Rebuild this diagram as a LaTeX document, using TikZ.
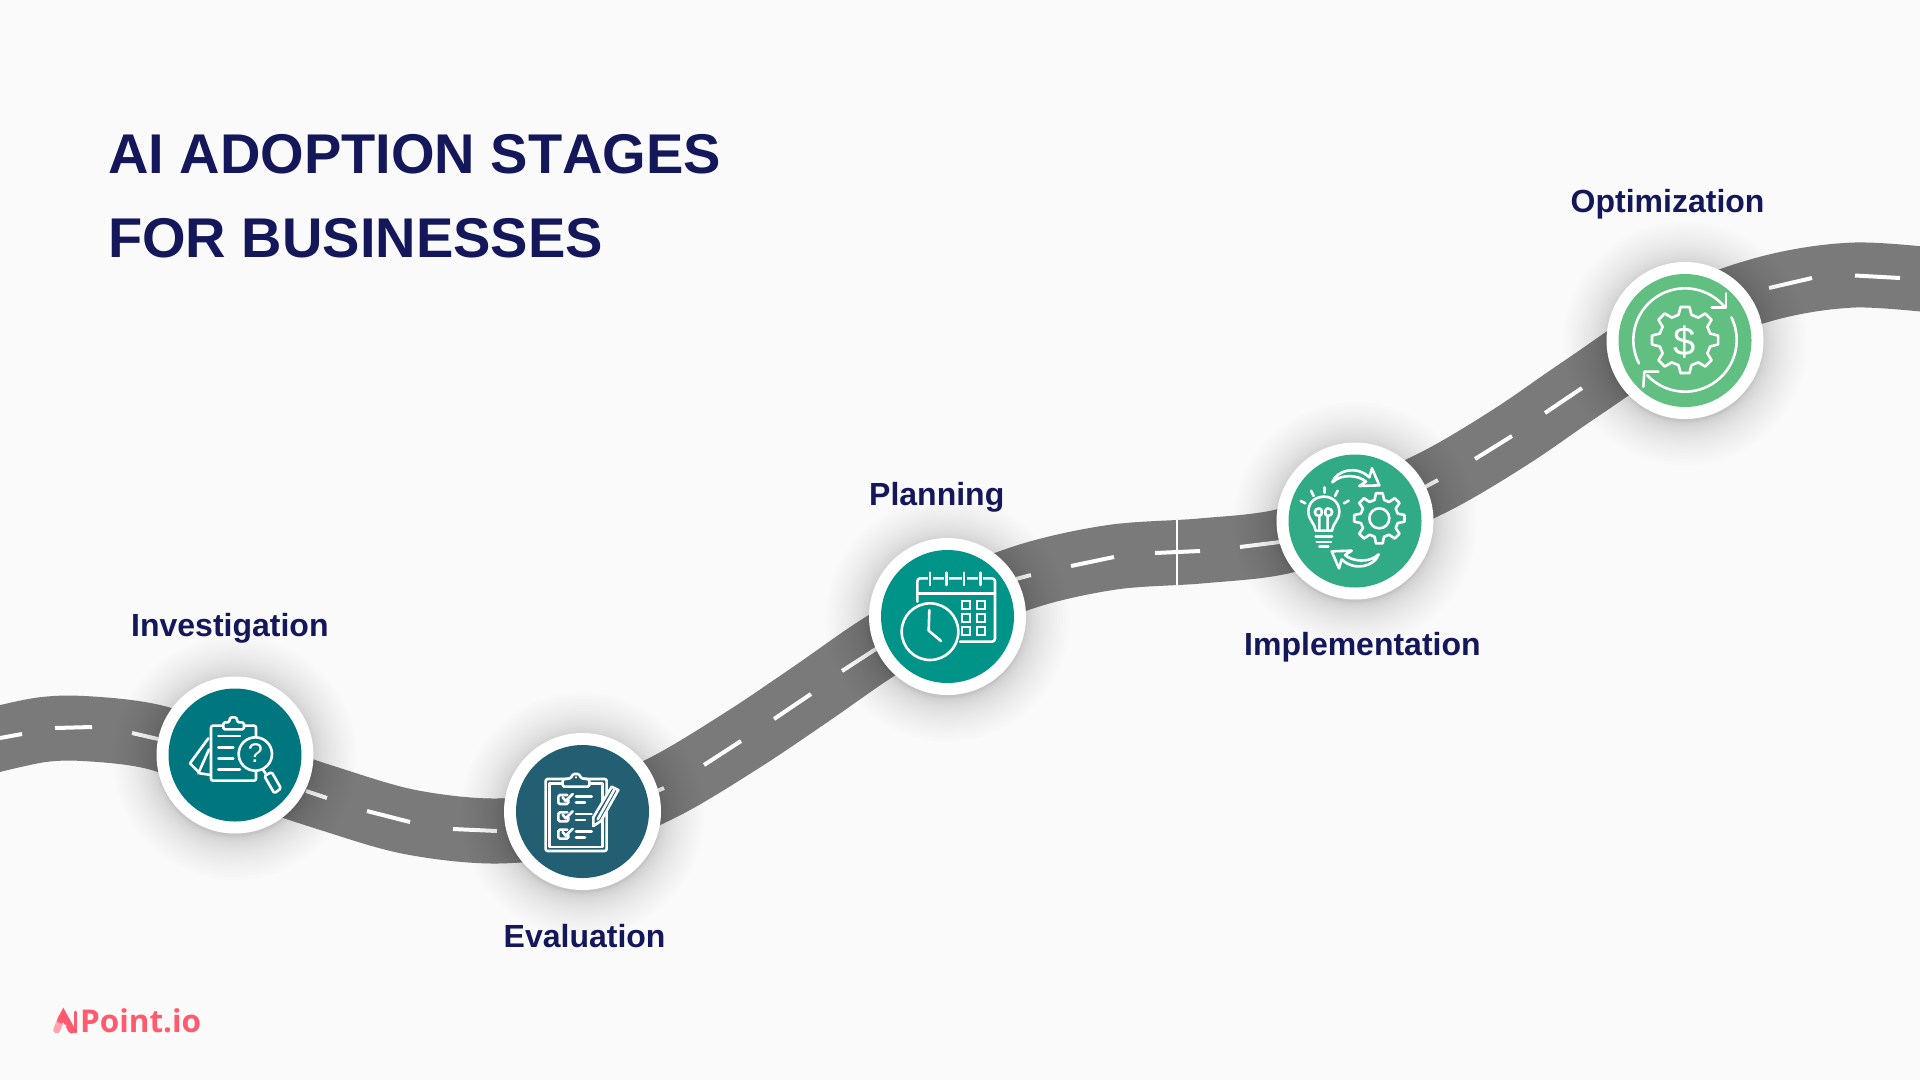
\documentclass[tikz,border=0pt]{standalone}
\usepackage{fontspec}
\setmainfont{Liberation Sans}
\newfontfamily\logofont{Open Sans}
\definecolor{bgc}{HTML}{FAFAFA}
\definecolor{roadc}{HTML}{7A7A7A}
\definecolor{inkc}{HTML}{14185A}
\definecolor{pinkc}{HTML}{FF5A6E}
\definecolor{pinkl}{HTML}{FFA3AE}
\definecolor{cOne}{HTML}{00777F}
\definecolor{cTwo}{HTML}{235F73}
\definecolor{cThree}{HTML}{009488}
\definecolor{cFour}{HTML}{30AB85}
\definecolor{cFive}{HTML}{62BF82}
\newcommand{\gearpath}[5]{% cx cy rin rout teeth
  \begin{scope}[shift={(#1,#2)}]
  \draw[ic] ({-0.32*360/#5}:#3) foreach \k in {1,...,#5} {
     -- ({(\k-1)*360/#5-0.17*360/#5}:#4) -- ({(\k-1)*360/#5+0.17*360/#5}:#4)
     -- ({(\k-1)*360/#5+0.32*360/#5}:#3) -- ({\k*360/#5-0.32*360/#5}:#3) } -- cycle;
  \end{scope}}
\tikzset{
  ic/.style={draw=white,line width=2.6pt,line join=round,line cap=round},
  zoomat/.style 2 args={shift={(#1,#2)},x=0.33333pt,y=-0.33333pt},
  ringnode/.style={circle,fill=white,minimum size=157pt,inner sep=0pt},
  labeltext/.style={anchor=base west,inner sep=0pt,text=inkc,font=\fontsize{32}{36}\selectfont\bfseries},
  titletext/.style={anchor=base west,inner sep=0pt,text=inkc,font=\fontsize{56}{60}\selectfont\bfseries},
  halo/.style={fill=black,opacity=0.0075}
}
\begin{document}
\begin{tikzpicture}[x=1pt,y=-1pt]
\fill[bgc] (0,0) rectangle (1920,1080);
\useasboundingbox (0,0) rectangle (1920,1080);
% road
\begin{scope}
\clip (0,0) rectangle (1920,1080);
\draw[roadc,line width=65pt] plot[smooth,tension=0.55] coordinates {(-30,746) (40,730) (92,729) (158,738) (235,767) (327,798) (410,822) (497,831) (582,820) (662,788) (741,741) (811,694) (879,647) (947,608) (1031,575) (1114,557) (1200,551) (1280,542) (1355,517) (1438,480) (1512,436) (1582,388) (1685,320) (1769,288) (1855,275) (1950,282)};
\end{scope}
\draw[white,line width=1.2pt] (1177,520) -- (1177,585);
\foreach \a/\b/\c/\d in {0/738/22/734, 55/728/92/727, 132/733/158/739, 306/791/327/798, 367/811/410/822, 453/829/497/831, 650/794/664/788, 704/765/741/741, 774/719/811/694, 842/671/879/647, 1016/579/1031/575, 1071/566/1114/557, 1155/553/1200/551, 1240/547/1280/542, 1425/487/1438/480, 1475/459/1512/436, 1545/413/1582/388, 1769/288/1812/278, 1855/275.5/1900/278}
  \draw[white,line width=4pt] (\a,\b) -- (\c,\d);
% halos
\foreach \cx/\cy in {235/755,582.5/811.5,947.5/616.5,1355/521,1685/340.5}
  \foreach \i in {0,...,26}
    \fill[halo] (\cx,\cy+3) circle ({78+44*(\i/26)*(\i/26)});
% discs
\node[ringnode] (stepa) at (235,755) {};
\node[ringnode] (stepb) at (582.5,811.5) {};
\node[ringnode] (stepc) at (947.5,616.5) {};
\node[ringnode] (stepd) at (1355,521) {};
\node[ringnode] (stepe) at (1685,340.5) {};
\fill[cOne] (stepa.center) circle (66.5);
\fill[cTwo] (stepb.center) circle (66.5);
\fill[cThree] (stepc.center) circle (66.5);
\fill[cFour] (stepd.center) circle (66.5);
\fill[cFive] (stepe.center) circle (66.5);
% icon 1
\begin{scope}[zoomat={140}{660}]
\draw[ic,fill=cOne] (205,235) -- (150,310) -- (180,340) -- (213,345);
\draw[ic] (207,268) -- (175,340);
\draw[ic,fill=cOne,rounded corners=2pt] (213,197) -- (213,362) -- (348,362) -- (348,197) -- cycle;
\draw[ic,fill=cOne,rounded corners=1.5pt] (250,187) -- (268,187) -- (270,172) -- (290,172) -- (292,187) -- (312,187) -- (312,208) -- (250,208) -- cycle;
\foreach \yy/\xx in {228/300,262/280,295/280,328/300}
  \draw[ic] (235,\yy) -- (\xx,\yy);
\draw[ic,fill=cOne] (346,282) circle (50);
\draw[ic] (368,328) -- (380,345);
\draw[ic,fill=cOne,rounded corners=1.5pt] (373,348) -- (395,336) -- (423,385) -- (403,400) -- cycle;
\node[text=white,inner sep=0pt,font=\fontsize{27}{30}\selectfont] (qmark) at (346,280) {?};
\end{scope}
% icon 2
\begin{scope}[zoomat={490}{720}]
\draw[ic,rounded corners=2pt] (167,177) rectangle (350,393);
\draw[ic] (178,190) rectangle (338,381);
\draw[ic,fill=cTwo,rounded corners=1.5pt] (218,178) -- (243,175) -- (248,162) -- (268,162) -- (273,175) -- (298,178) -- (298,200) -- (218,200) -- cycle;
\fill[white] (258,172) circle (3.5);
\foreach \dy in {0,52,104} {
  \begin{scope}[shift={(0,\dy)}]
  \draw[ic,rounded corners=1.5pt] (232,225) -- (205,225) -- (205,252) -- (235,252) -- (235,240);
  \draw[ic] (218,232) -- (227,243) -- (248,222);
  \draw[ic] (258,230) -- (305,230);
  \draw[ic] (258,248) -- (285,248);
  \end{scope}}
\draw[ic,fill=cTwo] (310,318) -- (310,292) -- (365,200) -- (385,210) -- (333,303) -- cycle;
\draw[ic] (323,298) -- (375,205);
\end{scope}
% icon 3
\begin{scope}[zoomat={860}{530}]
\draw[ic,rounded corners=3pt] (172,215) -- (172,145) -- (405,145) -- (405,335) -- (300,335);
\draw[ic] (172,190) -- (405,190);
\foreach \xx in {210,260,312,362} {
  \draw[cThree,line width=5pt] (\xx,128) -- (\xx,165);
  \draw[ic] (\xx,128) -- (\xx,165);}
\foreach \xx in {305,350} \foreach \yy in {214,252,290}
  \draw[white,line width=2pt] (\xx,\yy) rectangle ++(26,24);
\draw[ic,fill=cThree] (210,305) circle (85);
\draw[ic] (208,240) -- (206,302) -- (243,333);
\end{scope}
% icon 4
\begin{scope}[zoomat={1270}{440}]
\draw[ic] (137,272) .. controls (135,250) and (115,240) .. (115,215) .. controls (115,188) and (135,170) .. (162,170) .. controls (190,170) and (208,190) .. (208,215) .. controls (208,240) and (188,250) .. (186,272) -- cycle;
\draw[ic] (148,272) -- (148,228) .. controls (130,228) and (130,205) .. (148,205) .. controls (158,205) and (158,228) .. (148,228);
\draw[ic] (173,272) -- (173,228) .. controls (191,228) and (191,205) .. (173,205) .. controls (163,205) and (163,228) .. (173,228);
\draw[ic] (137,290) -- (186,290);
\draw[ic] (140,306) -- (183,306);
\draw[ic] (148,320) -- (175,320);
\draw[ic] (163,142) -- (163,158);
\draw[ic] (123,152) -- (131,168);
\draw[ic] (203,152) -- (195,168);
\draw[ic] (92,183) -- (106,190);
\draw[ic] (236,182) -- (222,190);
\gearpath{328}{235}{57}{76}{8}
\draw[ic] (328,235) circle (30);
\foreach \rr in {0,180} {
  \begin{scope}[rotate around={\rr:(256.5,235)}]
  \draw[ic] (187,127) .. controls (200,90) and (260,75) .. (298,112) -- (306,85) -- (328,136) -- (268,138) -- (288,125) .. controls (265,105) and (215,100) .. (187,127) -- cycle;
  \end{scope}}
\end{scope}
% icon 5
\begin{scope}[zoomat={1600}{260}]
\draw[ic] ([shift={(255,240)}]153:155) arc (153:319:155);
\draw[ic] ([shift={(255,240)}]-26:155) arc (-26:137:155);
\draw[ic] (378,100) -- (378,143) -- (335,143);
\draw[ic] (130,380) -- (133,335) -- (175,335);
\gearpath{255}{240}{78}{100}{8}
\node[text=white,inner sep=0pt,font=\fontsize{40}{42}\selectfont] (dollar) at (255,245) {\$};
\end{scope}
% logo
\begin{scope}[zoomat={30}{990}]
\draw[pinkl,line width=7pt,line cap=round] (80,120) -- (92,90);
\draw[pinkc,line width=7pt,line cap=round] (92,90) -- (100,75) -- (125,120);
\draw[pinkc,line width=3pt,line cap=round] (137,66) -- (137,126);
\fill[white] (105,108) circle (5);
\end{scope}
\node[anchor=base west,inner sep=0pt,text=pinkc,font=\logofont\fontsize{31.4}{36}\selectfont\bfseries] (logo) at (80,1032) {Point.io};
% text
\node[titletext,font=\fontsize{56}{60}\selectfont\bfseries\addfontfeature{Kerning=Off}] (titleone) at (108,173) {AI ADOPTION STAGES};
\node[titletext] (titletwo) at (108,257) {FOR BUSINESSES};
\node[labeltext] (lblone) at (131,636) {Investigation};
\node[labeltext] (lbltwo) at (503.5,947) {Evaluation};
\node[labeltext] (lblthree) at (869,505) {Planning};
\node[labeltext] (lblfour) at (1244,655) {Implementation};
\node[labeltext] (lblfive) at (1570.5,212) {Optimization};
\end{tikzpicture}
\end{document}
